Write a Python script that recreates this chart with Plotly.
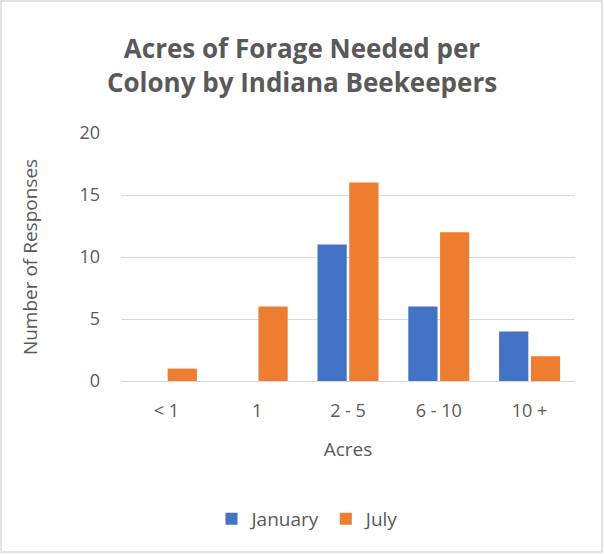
import plotly.graph_objects as go

categories = ["< 1", "1", "2 - 5", "6 - 10", "10 +"]
january = [0, 0, 11, 6, 4]
july = [1, 6, 16, 12, 2]

W, H = 604, 554
ML, MR, MT, MB = 121, 29, 133, 173
pw, ph = W - ML - MR, H - MT - MB

font = "Open Sans, Liberation Sans, sans-serif"
grey = "#595959"

fig = go.Figure()
fig.add_bar(x=categories, y=january, name="January",
            marker=dict(color="#4472C4", line=dict(width=0)))
fig.add_bar(x=categories, y=july, name="July",
            marker=dict(color="#ED7D31", line=dict(width=0)))

fig.update_layout(
    width=W, height=H,
    margin=dict(l=ML, r=MR, t=MT, b=MB, autoexpand=False),
    paper_bgcolor="white", plot_bgcolor="white",
    barmode="group", bargap=0.3, bargroupgap=0.08,
    font=dict(family=font, color=grey, size=18),
    title=dict(text="Acres of Forage Needed per<br>Colony by Indiana Beekeepers",
               x=0.5, xanchor="center", y=1 - 58 / H, yanchor="middle",
               font=dict(size=26, color=grey, family=font, weight="bold")),
    legend=dict(orientation="h", x=(308 - ML) / pw, xanchor="center", y=-(519 - 381) / ph,
                yanchor="middle", font=dict(size=19, color=grey),
                itemwidth=30, traceorder="normal"),
    xaxis=dict(title=dict(text="Acres", font=dict(size=19, color=grey), standoff=21),
               showgrid=False, showline=False, ticks="", ticklabelstandoff=17,
               tickfont=dict(size=18, color=grey)),
    yaxis=dict(title=dict(text="Number of Responses", font=dict(size=19, color=grey), standoff=36),
               range=[0, 20], dtick=5, showgrid=True, gridcolor="#D9D9D9", gridwidth=1,
               zeroline=True, zerolinecolor="#D9D9D9", zerolinewidth=1,
               showline=False, ticks="", ticklabelstandoff=20,
               tickfont=dict(size=18, color=grey)),
    shapes=[dict(type="rect", xref="paper", yref="paper",
                 x0=-(ML - 1) / pw, x1=1 + (MR - 2) / pw,
                 y0=-(MB - 2) / ph, y1=1 + (MT - 1) / ph,
                 line=dict(color="#D9D9D9", width=1.5), layer="below")],
)

fig.write_html("out.html", config={"displayModeBar": False},
               post_script="document.body.style.margin='0';document.body.style.padding='0';")
